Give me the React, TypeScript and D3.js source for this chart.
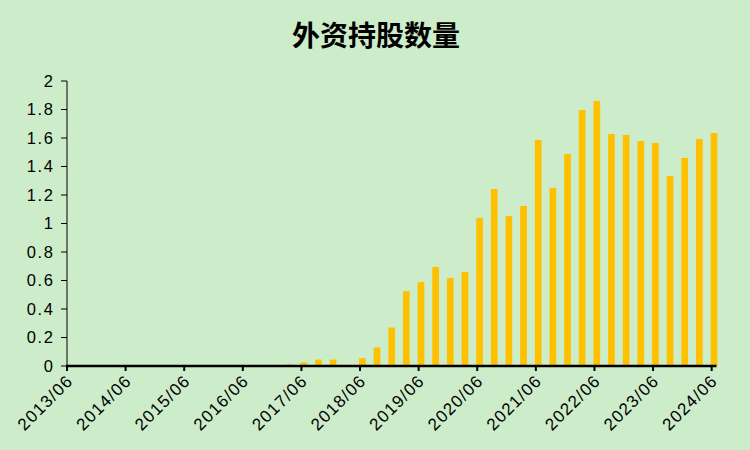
import React from "react";
import * as d3 from "d3";

const quarters: string[] = [];
for (let y = 2013; y <= 2024; y++) {
  for (const m of ["03", "06", "09", "12"]) {
    const q = `${y}/${m}`;
    if (q >= "2013/06" && q <= "2024/06") quarters.push(q);
  }
}

const values: number[] = [
  0, 0, 0, 0, // 2013/06 - 2014/03
  0, 0, 0, 0, // 2014/06 - 2015/03
  0, 0, 0, 0, // 2015/06 - 2016/03
  0, 0, 0.008, 0.01, // 2016/06 - 2017/03
  0.025, 0.045, 0.045, 0, // 2017/06 - 2018/03
  0.055, 0.13, 0.27, 0.525, // 2018/06 - 2019/03
  0.59, 0.695, 0.617, 0.66, // 2019/06 - 2020/03
  1.04, 1.242, 1.053, 1.123, // 2020/06 - 2021/03
  1.586, 1.249, 1.488, 1.796, // 2021/06 - 2022/03
  1.86, 1.628, 1.621, 1.579, // 2022/06 - 2023/03
  1.565, 1.333, 1.46, 1.593, // 2023/06 - 2024/03
  1.635, // 2024/06
];

const yTicks = [0, 0.2, 0.4, 0.6, 0.8, 1, 1.2, 1.4, 1.6, 1.8, 2];
const xTickLabels = [
  "2013/06", "2014/06", "2015/06", "2016/06", "2017/06", "2018/06",
  "2019/06", "2020/06", "2021/06", "2022/06", "2023/06", "2024/06",
];
const title = "外资持股数量";

export default function App() {
  const W = 750, H = 450;
  const x = d3.scaleLinear().domain([0, 44.33]).range([67, 716.5]);
  const y = d3.scaleLinear().domain([0, 2]).range([366, 81]);
  const barW = 6.7;
  const font = "'Liberation Sans', Arial, sans-serif";

  return (
    <svg width={W} height={H} style={{ position: "absolute", left: 0, top: 0 }}>
      <rect x={0} y={0} width={W} height={H} fill="#CDEDCA" />
      <text x={376} y={45.5} textAnchor="middle" fontFamily="'Noto Sans CJK SC', sans-serif" fontWeight="bold" fontSize={28} fill="#000">{title}</text>
      {values.map((v, i) => (
        v > 0 ? (
          <rect key={i} x={x(i) - 1} y={y(v)} width={barW} height={y(0) - y(v)} fill="#FFC000" />
        ) : null
      ))}
      {/* y axis */}
      <line x1={67} x2={67} y1={y(2)} y2={y(0)} stroke="#000" strokeWidth={1} />
      {yTicks.map((t) => (
        <g key={t}>
          <line x1={61} x2={67} y1={y(t)} y2={y(t)} stroke="#000" strokeWidth={1} />
          <text x={54.5} y={y(t)} dy="0.36em" textAnchor="end" fontFamily={font} fontSize={16.5} letterSpacing={1.6} fill="#000">{String(t)}</text>
        </g>
      ))}
      {/* x axis */}
      <line x1={66} x2={716.5} y1={y(0)} y2={y(0)} stroke="#000" strokeWidth={2.5} />
      {xTickLabels.map((lab, k) => {
        const px = x(k * 4);
        return (
          <g key={lab}>
            <line x1={px} x2={px} y1={y(0)} y2={y(0) + 5} stroke="#000" strokeWidth={2} />
            <text transform={`translate(${px + 7},${y(0) + 16}) rotate(-45)`} textAnchor="end" fontFamily={font} fontSize={17} letterSpacing={1.2} fill="#000">{lab}</text>
          </g>
        );
      })}
    </svg>
  );
}
